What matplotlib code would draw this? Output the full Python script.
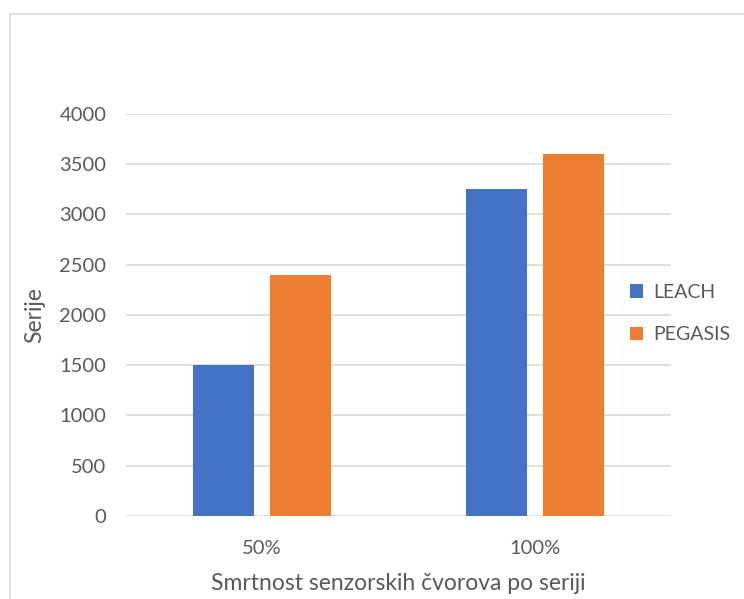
import matplotlib
matplotlib.use("Agg")
import matplotlib.pyplot as plt
import numpy as np

CATEGORIES = ["50%", "100%"]
SERIES = ["LEACH", "PEGASIS"]
LEACH = [1500, 3250]
PEGASIS = [2400, 3600]
COLORS = ["#4472c4", "#ed7d31"]
YTICKS = list(range(0, 4001, 500))

plt.rcParams["font.family"] = ["Lato", "DejaVu Sans"]
TXT = "#595959"


def main():
    fig = plt.figure(figsize=(7.44, 5.99), dpi=100)
    ax = fig.add_axes([0.169, 0.1386, 0.733, 0.6711])

    x = np.arange(len(CATEGORIES))
    w = 0.224
    off = 0.141
    for vals, c, lab, d in zip([LEACH, PEGASIS], COLORS, SERIES, [-off, off]):
        ax.bar(x + d, vals, width=w, color=c, label=lab, zorder=3)

    ax.set_xlim(-0.5, 1.5)
    ax.set_ylim(0, 4000)
    ax.set_yticks(YTICKS)
    ax.set_xticks(x)
    ax.set_xticklabels(CATEGORIES)
    ax.yaxis.grid(True, color="#d9d9d9", linewidth=1.2, zorder=0)
    for s in ax.spines.values():
        s.set_visible(False)
    ax.tick_params(length=0, labelsize=14.5, colors=TXT)
    ax.tick_params(axis="y", pad=14)
    ax.tick_params(axis="x", pad=17)
    ax.set_xlabel("Smrtnost senzorskih čvorova po seriji", fontsize=16.5, color=TXT, labelpad=12)
    ax.set_ylabel("Serije", fontsize=16.5, color=TXT, labelpad=10)

    leg = fig.legend(loc="center left", bbox_to_anchor=(0.823, 0.4765), frameon=False,
                     fontsize=14, handlelength=0.7, handleheight=0.7, handletextpad=0.5,
                     labelspacing=1.3)
    for t in leg.get_texts():
        t.set_color(TXT)

    # light chart border (top and left edges visible)
    fig.add_artist(plt.Line2D([0.013, 1.0], [0.977, 0.977], color="#d9d9d9", linewidth=1.2))
    fig.add_artist(plt.Line2D([0.013, 0.013], [0.0, 0.977], color="#d9d9d9", linewidth=1.2))

    fig.savefig("out.png", dpi=100)


if __name__ == "__main__":
    main()
